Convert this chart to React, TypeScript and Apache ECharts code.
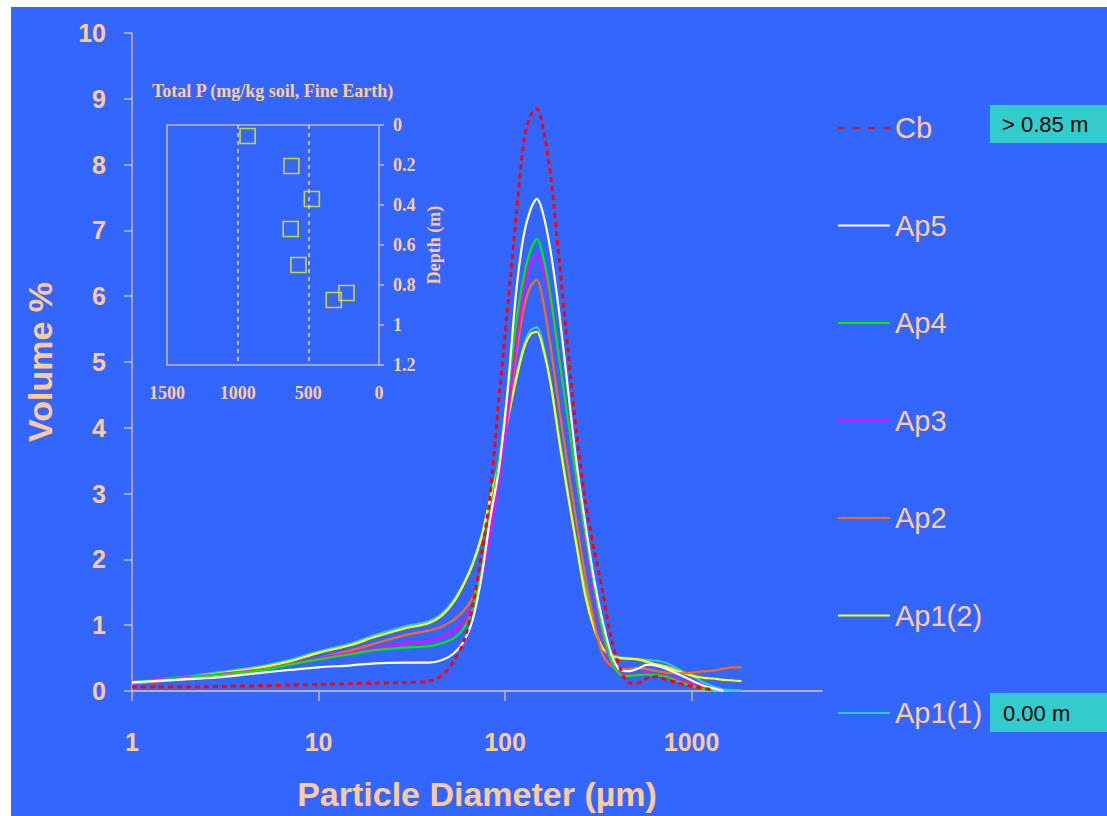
import React, { useEffect, useRef } from 'react';
import * as echarts from 'echarts';

// Particle diameters (µm) shared by all distribution curves
const sizes = [1, 2, 3, 5, 7, 10, 15, 20, 29, 39, 46, 53, 60, 67, 75, 83, 93, 103, 115, 126, 137, 148, 160, 176, 195, 218, 242, 269, 300, 334, 372, 414, 460, 515, 580, 654, 728, 811, 903, 1020, 1160, 1300, 1480, 1660, 1850];

// Volume % per horizon (curves may end before the last size)
const cb = [0.06, 0.06, 0.07, 0.08, 0.09, 0.10, 0.11, 0.12, 0.13, 0.15, 0.24, 0.45, 0.75, 1.3, 2.1, 2.95, 4.5, 5.8, 7.25, 8.35, 8.75, 8.85, 8.55, 7.8, 6.55, 5.15, 3.9, 2.9, 2.15, 1.5, 0.78, 0.35, 0.12, 0.12, 0.2, 0.22, 0.17, 0.14, 0.1, 0.07, 0.04, 0.02];
const ap5 = [0.13, 0.18, 0.21, 0.28, 0.32, 0.36, 0.39, 0.42, 0.43, 0.43, 0.47, 0.57, 0.75, 1.08, 1.75, 2.6, 3.4, 4.55, 6.1, 6.93, 7.32, 7.48, 7.25, 6.66, 5.75, 4.55, 3.45, 2.55, 1.7, 1.05, 0.55, 0.32, 0.3, 0.34, 0.4, 0.38, 0.34, 0.28, 0.22, 0.15, 0.08, 0.04, 0.0];
const ap4 = [0.14, 0.2, 0.25, 0.32, 0.4, 0.48, 0.56, 0.62, 0.66, 0.68, 0.73, 0.8, 0.95, 1.25, 1.85, 2.65, 3.54, 4.5, 5.62, 6.3, 6.7, 6.87, 6.6, 5.96, 5.05, 4.1, 3.2, 2.4, 1.6, 0.9, 0.45, 0.25, 0.23, 0.24, 0.25, 0.24, 0.22, 0.17, 0.12, 0.07, 0.03, 0.0];
const ap3 = [0.15, 0.21, 0.26, 0.33, 0.41, 0.5, 0.58, 0.65, 0.72, 0.76, 0.82, 0.9, 1.05, 1.3, 1.72, 2.4, 3.25, 4.15, 5.28, 6.06, 6.5, 6.63, 6.4, 5.86, 5.0, 4.08, 3.17, 2.33, 1.5, 0.82, 0.42, 0.27, 0.25, 0.26, 0.27, 0.25, 0.23, 0.19, 0.15, 0.11, 0.06, 0.03, 0.0];
const ap2 = [0.12, 0.18, 0.24, 0.32, 0.4, 0.5, 0.62, 0.72, 0.85, 0.92, 0.98, 1.08, 1.22, 1.42, 1.78, 2.42, 3.27, 4.16, 5.13, 5.82, 6.15, 6.25, 5.92, 5.2, 4.3, 3.37, 2.55, 1.75, 1.05, 0.55, 0.38, 0.33, 0.33, 0.35, 0.33, 0.3, 0.28, 0.27, 0.27, 0.28, 0.3, 0.31, 0.34, 0.36, 0.36];
const ap1b = [0.12, 0.2, 0.27, 0.36, 0.45, 0.58, 0.7, 0.82, 0.95, 1.03, 1.15, 1.35, 1.62, 1.92, 2.35, 2.9, 3.45, 4.1, 4.75, 5.2, 5.42, 5.46, 5.2, 4.65, 3.8, 2.95, 2.2, 1.45, 0.95, 0.65, 0.53, 0.5, 0.49, 0.48, 0.44, 0.4, 0.37, 0.32, 0.27, 0.23, 0.2, 0.19, 0.17, 0.16, 0.15];
const ap1a = [0.14, 0.22, 0.29, 0.38, 0.47, 0.6, 0.72, 0.85, 0.98, 1.06, 1.18, 1.38, 1.64, 1.95, 2.38, 2.92, 3.5, 4.15, 4.8, 5.25, 5.48, 5.53, 5.26, 4.65, 3.86, 3.0, 2.22, 1.56, 1.0, 0.65, 0.55, 0.51, 0.5, 0.48, 0.47, 0.46, 0.43, 0.36, 0.29, 0.22, 0.13, 0.07, 0.02, 0.01, 0.01];

const seriesNames = ['Cb', 'Ap5', 'Ap4', 'Ap3', 'Ap2', 'Ap1(2)', 'Ap1(1)'];
const seriesValues = [cb, ap5, ap4, ap3, ap2, ap1b, ap1a];
const seriesColors = ['#FF0000', '#FFFFFF', '#00EE00', '#FF00FF', '#FF6A1A', '#FFFF00', '#33CCCC'];

const xTicks = [1, 10, 100, 1000];

// Inset: total P (mg/kg) vs depth (m)
const totalP = [930, 620, 475, 625, 570, 230, 320];
const depthM = [0.055, 0.205, 0.37, 0.52, 0.7, 0.84, 0.875];

const PEACH = '#FFCC99';
const AXIS = '#E6C7A8';
const BORDER = '#C8B8AA';
const SANS = 'Liberation Sans, Arial, sans-serif';
const SERIF = 'Liberation Serif, Times New Roman, serif';

const SOLID_ICON = 'path://M0,0H52V2H0Z';
const DASH_ICON = 'path://M0,0H6V2H0Z M14,0H20V2H14Z M28,0H34V2H28Z M42,0H48V2H42Z';

export default function App() {
  const ref = useRef<HTMLDivElement>(null);

  useEffect(() => {
    if (!ref.current) return;
    const chart = echarts.init(ref.current, null, { renderer: 'svg' });

    const lineSeries = seriesNames.map((name, i) => ({
      name,
      type: 'line',
      xAxisIndex: 0,
      yAxisIndex: 0,
      data: seriesValues[i].map((v, k) => [sizes[k], v]),
      showSymbol: false,
      symbol: 'none',
      smooth: 0.3,
      z: 10 - i,
      lineStyle: {
        color: seriesColors[i],
        width: i === 0 ? 3 : 2.2,
        type: i === 0 ? [5, 4] : 'solid',
      },
      itemStyle: { color: seriesColors[i] },
    }));

    const plain = (v: number) => String(Math.round(v * 10) / 10);

    const option = {
      animation: false,
      backgroundColor: 'transparent',
      title: {
        text: 'Total P (mg/kg soil, Fine Earth)',
        left: 152,
        top: 82,
        padding: 0,
        textStyle: { color: PEACH, fontFamily: SERIF, fontWeight: 'bold', fontSize: 18 },
      },
      legend: {
        orient: 'vertical',
        left: 838,
        top: 112,
        itemWidth: 52,
        itemHeight: 2.5,
        itemGap: 65.5,
        padding: 0,
        data: seriesNames.map((n, i) => ({ name: n, icon: i === 0 ? DASH_ICON : SOLID_ICON })),
        textStyle: { color: PEACH, fontFamily: SANS, fontSize: 29, lineHeight: 32 },
      },
      grid: [
        { left: 132, top: 33, width: 690, height: 659 },
        { left: 167, top: 125, width: 212, height: 240, show: true, borderColor: BORDER, borderWidth: 1.5, backgroundColor: 'transparent' },
      ],
      xAxis: [
        {
          type: 'log',
          logBase: 10,
          gridIndex: 0,
          min: 1,
          max: 5000,
          axisLine: { show: true, lineStyle: { color: AXIS, width: 1.5 } },
          axisTick: { show: true, customValues: xTicks, length: 10, lineStyle: { color: BORDER, width: 1.5 } },
          axisLabel: { customValues: xTicks, formatter: plain, margin: 38, color: PEACH, fontSize: 25, fontWeight: 'bold', fontFamily: SANS },
          splitLine: { show: false },
          name: 'Particle Diameter (µm)',
          nameLocation: 'middle',
          nameGap: 86,
          nameTextStyle: { color: PEACH, fontSize: 34, fontWeight: 'bold', fontFamily: SANS },
        },
        {
          type: 'value',
          gridIndex: 1,
          min: 0,
          max: 1500,
          interval: 500,
          inverse: true,
          position: 'bottom',
          axisLine: { show: false },
          axisTick: { show: false },
          axisLabel: { margin: 19, formatter: plain, color: PEACH, fontSize: 18, fontWeight: 'bold', fontFamily: SERIF },
          splitLine: { show: true, showMinLine: false, showMaxLine: false, lineStyle: { color: PEACH, type: [4, 4], width: 1.5 } },
        },
      ],
      yAxis: [
        {
          type: 'value',
          gridIndex: 0,
          min: 0,
          max: 10,
          interval: 1,
          axisLine: { show: true, lineStyle: { color: BORDER, width: 1.5 } },
          axisTick: { show: true, length: 8, lineStyle: { color: BORDER, width: 1.5 } },
          axisLabel: { margin: 26, color: PEACH, fontSize: 25, fontWeight: 'bold', fontFamily: SANS },
          splitLine: { show: false },
          name: 'Volume %',
          nameLocation: 'middle',
          nameRotate: 90,
          nameGap: 75,
          nameTextStyle: { color: PEACH, fontSize: 34, fontWeight: 'bold', fontFamily: SANS },
        },
        {
          type: 'value',
          gridIndex: 1,
          position: 'right',
          inverse: true,
          min: 0,
          max: 1.2,
          interval: 0.2,
          axisLine: { show: false },
          axisTick: { show: true, length: 5, lineStyle: { color: BORDER, width: 1.5 } },
          axisLabel: { margin: 14, formatter: plain, color: PEACH, fontSize: 18, fontWeight: 'bold', fontFamily: SERIF },
          splitLine: { show: false },
          name: 'Depth (m)',
          nameLocation: 'middle',
          nameRotate: 90,
          nameGap: 46,
          nameTextStyle: { color: PEACH, fontSize: 18, fontWeight: 'bold', fontFamily: SERIF },
        },
      ],
      graphic: [
        { type: 'rect', shape: { x: 990, y: 105, width: 117, height: 38 }, style: { fill: '#33CCCC' } },
        { type: 'text', x: 1002, y: 124, style: { text: '> 0.85 m', fill: '#000000', fontSize: 22, fontFamily: SANS, verticalAlign: 'middle', align: 'left' } },
        { type: 'rect', shape: { x: 990, y: 693, width: 117, height: 39 }, style: { fill: '#33CCCC' } },
        { type: 'text', x: 1003, y: 713, style: { text: '0.00 m', fill: '#000000', fontSize: 22, fontFamily: SANS, verticalAlign: 'middle', align: 'left' } },
      ],
      series: [
        ...lineSeries.slice().reverse(),
        {
          name: 'Total P',
          type: 'scatter',
          xAxisIndex: 1,
          yAxisIndex: 1,
          data: totalP.map((p, k) => [p, depthM[k]]),
          symbol: 'rect',
          symbolSize: 15,
          itemStyle: { color: 'rgba(0,0,0,0)', borderColor: '#F2F200', borderWidth: 1.6 },
          z: 5,
        },
      ],
    };

    chart.setOption(option as any);
    return () => chart.dispose();
  }, []);

  return (
    <div style={{ position: 'absolute', left: 0, top: 0, width: 1107, height: 816, background: '#FFFFFF', overflow: 'hidden' }}>
      <div style={{ position: 'absolute', left: 11, top: 7, right: 0, bottom: 0, background: '#3366FF' }} />
      <div ref={ref} style={{ position: 'absolute', left: 0, top: 0, width: 1107, height: 816 }} />
    </div>
  );
}
